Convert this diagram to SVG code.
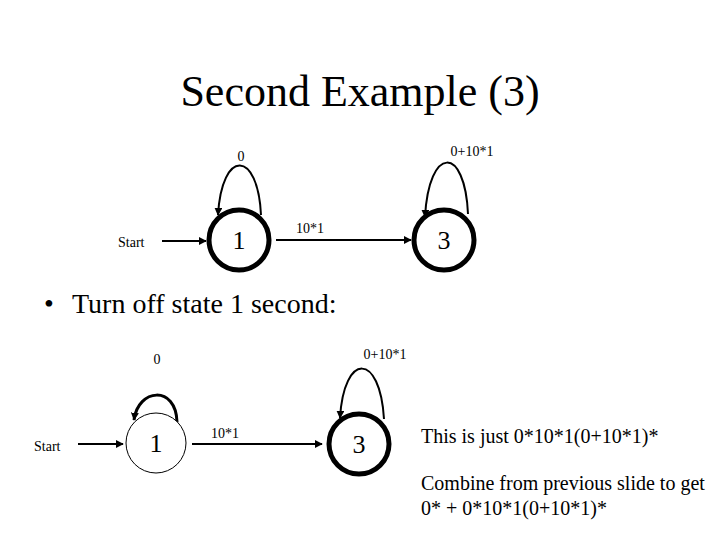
<svg xmlns="http://www.w3.org/2000/svg" width="720" height="540" viewBox="0 0 720 540">
<defs>
<marker id="ah" viewBox="0 0 10 10" refX="9" refY="5" markerWidth="8" markerHeight="8" markerUnits="userSpaceOnUse" orient="auto">
<path d="M0,0 L10,5 L0,10 z" fill="#000"/>
</marker>
</defs>
<style>
text{font-family:"Liberation Serif","Times New Roman",serif;fill:#000}
.lbl{font-size:14px}
.st{font-size:26px}
.thick{fill:#fff;stroke:#000;stroke-width:5}
.thin{fill:#fff;stroke:#000;stroke-width:1}
.edge{fill:none;stroke:#000;stroke-width:2;marker-end:url(#ah)}
.loop{fill:none;stroke:#000;stroke-width:2;marker-end:url(#ah)}
</style>
<rect width="720" height="540" fill="#fff"/>
<text x="360" y="106" font-size="44" text-anchor="middle">Second Example (3)</text>
<text x="44" y="313" font-size="28">•</text>
<text x="72" y="313" font-size="28">Turn off state 1 second:</text>

<g id="connectors">
<line class="edge" x1="162" y1="241" x2="206" y2="241"/>
<line class="edge" x1="276" y1="240" x2="411" y2="240"/>
<path class="loop" d="M261,215 C258,150 222,148 218,215"/>
<path class="loop" d="M468,214 C465,145 429,145 425,217"/>
<line class="edge" x1="78" y1="444" x2="123" y2="444"/>
<line class="edge" x1="192" y1="444" x2="322" y2="444"/>
<path class="loop" d="M177,422 C176,385 138,388 134,420" style="stroke-width:3"/>
<path class="loop" d="M384,419 C380,352 344,352 340,418"/>
</g>

<g id="start1"><text class="lbl" x="118" y="247">Start</text></g>
<g id="s1top"><circle class="thick" cx="239" cy="240" r="30"/><text class="st" x="239" y="249" text-anchor="middle">1</text></g>
<g id="s3top"><circle class="thick" cx="444" cy="240" r="30"/><text class="st" x="444" y="249" text-anchor="middle">3</text></g>
<g id="lbls-top">
<text class="lbl" x="241" y="161" text-anchor="middle">0</text>
<text class="lbl" x="472" y="156" text-anchor="middle">0+10*1</text>
<text class="lbl" x="310" y="233" text-anchor="middle">10*1</text>
</g>

<g id="start2"><text class="lbl" x="34" y="451">Start</text></g>
<g id="s1bot"><circle class="thin" cx="156" cy="443" r="30"/><text class="st" x="156" y="452" text-anchor="middle">1</text></g>
<g id="s3bot"><circle class="thick" cx="359" cy="444" r="30"/><text class="st" x="359" y="453" text-anchor="middle">3</text></g>
<g id="lbls-bot">
<text class="lbl" x="157" y="364" text-anchor="middle">0</text>
<text class="lbl" x="385" y="359" text-anchor="middle">0+10*1</text>
<text class="lbl" x="225" y="438" text-anchor="middle">10*1</text>
</g>

<g id="notes" font-size="20">
<text x="421" y="443" font-size="20">This is just 0*10*1(0+10*1)*</text>
<text x="421" y="490" font-size="20">Combine from previous slide to get</text>
<text x="421" y="515" font-size="20">0* + 0*10*1(0+10*1)*</text>
</g>
</svg>
